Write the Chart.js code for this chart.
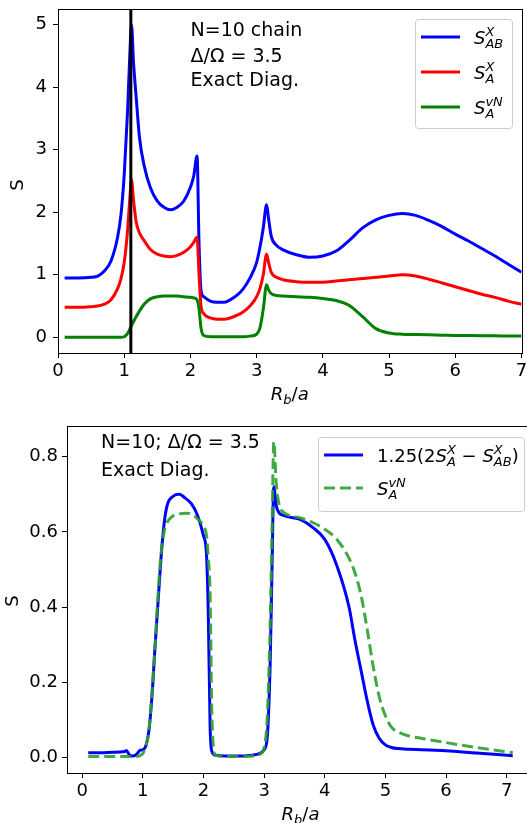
<!DOCTYPE html>
<html>
<head>
<meta charset="utf-8">
<script src="https://cdn.jsdelivr.net/npm/chart.js@4.4.1/dist/chart.umd.min.js"></script>
<style>
  html, body { margin: 0; padding: 0; background: #fff; overflow: hidden; width: 527px; height: 823px; }
  #top { position: absolute; left: 0; top: 0; width: 527px; height: 410px; }
  #bot { position: absolute; left: 0; top: 400px; width: 541px; height: 423px; }
</style>
</head>
<body>
<div id="top"><canvas id="chartTop"></canvas></div>
<div id="bot"><canvas id="chartBot"></canvas></div>
<script>
// top panel: entropies vs R_b/a
var topR = [0.1, 0.3, 0.5, 0.6, 0.7, 0.8, 0.9, 0.95, 1.0, 1.05,
  1.08, 1.11, 1.14, 1.18, 1.23, 1.3, 1.4, 1.5, 1.6, 1.7,
  1.8, 1.9, 2.0, 2.05, 2.1, 2.13, 2.16, 2.2, 2.3, 2.4,
  2.5, 2.6, 2.7, 2.8, 2.9, 3.0, 3.05, 3.1, 3.15, 3.18,
  3.22, 3.3, 3.4, 3.6, 3.8, 4.0, 4.2, 4.4, 4.6, 4.8,
  5.0, 5.2, 5.4, 5.6, 5.8, 6.0, 6.2, 6.4, 6.6, 6.8, 7.0];
var sAB = [0.95, 0.95, 0.96, 0.98, 1.06, 1.22, 1.6, 1.95, 2.6, 3.6,
  4.4, 5.0, 4.4, 3.85, 3.2, 2.75, 2.38, 2.18, 2.08, 2.04,
  2.08, 2.18, 2.4, 2.58, 2.9, 1.5, 0.75, 0.65, 0.58, 0.56,
  0.56, 0.6, 0.67, 0.78, 0.95, 1.2, 1.44, 1.75, 2.12, 1.9,
  1.62, 1.47, 1.4, 1.32, 1.28, 1.3, 1.38, 1.55, 1.75, 1.88,
  1.95, 1.98, 1.95, 1.87, 1.77, 1.65, 1.54, 1.42, 1.3, 1.17, 1.04];
var sA = [0.48, 0.48, 0.49, 0.5, 0.53, 0.6, 0.78, 0.93, 1.2, 1.7,
  2.15, 2.52, 2.2, 1.85, 1.67, 1.55, 1.4, 1.33, 1.3, 1.29,
  1.31, 1.36, 1.45, 1.52, 1.6, 1.0, 0.5, 0.38, 0.31, 0.29,
  0.29, 0.31, 0.35, 0.41, 0.5, 0.65, 0.78, 1.0, 1.33, 1.2,
  1.04, 0.96, 0.92, 0.89, 0.88, 0.88, 0.9, 0.92, 0.94, 0.96,
  0.98, 1.0, 0.98, 0.93, 0.87, 0.81, 0.75, 0.69, 0.64, 0.58, 0.53];
var sVN = [0, 0, 0, 0, 0, 0, 0, 0, 0.01, 0.06,
  0.12, 0.19, 0.25, 0.33, 0.42, 0.53, 0.62, 0.65, 0.66, 0.66,
  0.66, 0.65, 0.64, 0.63, 0.6, 0.45, 0.15, 0.03, 0.01, 0.01,
  0.01, 0.01, 0.01, 0.01, 0.02, 0.05, 0.15, 0.45, 0.84, 0.76,
  0.7, 0.67, 0.66, 0.65, 0.64, 0.62, 0.59, 0.51, 0.33, 0.14,
  0.07, 0.05, 0.045, 0.04, 0.035, 0.03, 0.028, 0.026, 0.024, 0.022, 0.02];
var markR = 1.1;

// bottom panel: combination vs von Neumann
var botR = [0.1, 0.3, 0.5, 0.7, 0.73, 0.77, 0.82, 0.9, 0.95, 1.0,
  1.05, 1.1, 1.15, 1.2, 1.25, 1.3, 1.35, 1.4, 1.5, 1.6,
  1.7, 1.8, 1.9, 2.0, 2.05, 2.08, 2.11, 2.14, 2.2, 2.4,
  2.6, 2.8, 2.95, 3.0, 3.05, 3.1, 3.13, 3.16, 3.2, 3.25,
  3.3, 3.4, 3.6, 3.8, 4.0, 4.2, 4.4, 4.5, 4.6, 4.7,
  4.8, 4.9, 5.0, 5.1, 5.2, 5.4, 5.6, 6.0, 6.5, 7.1];
var combo = [0.012, 0.012, 0.013, 0.015, 0.018, 0.008, 0.003, 0.008, 0.018, 0.02,
  0.03, 0.07, 0.16, 0.29, 0.41, 0.53, 0.62, 0.67, 0.695, 0.70,
  0.69, 0.675, 0.645, 0.59, 0.54, 0.38, 0.08, 0.015, 0.005, 0.003,
  0.003, 0.005, 0.012, 0.02, 0.05, 0.25, 0.5, 0.72, 0.67, 0.65,
  0.645, 0.64, 0.633, 0.612, 0.58, 0.51, 0.4, 0.31, 0.23, 0.15,
  0.085, 0.05, 0.033, 0.026, 0.023, 0.021, 0.02, 0.017, 0.011, 0.004];
var vN = [0.002, 0.002, 0.002, 0.002, 0.002, 0.002, 0.002, 0.002, 0.004, 0.01,
  0.03, 0.07, 0.17, 0.29, 0.43, 0.54, 0.6, 0.625, 0.643, 0.648,
  0.65, 0.648, 0.635, 0.615, 0.59, 0.53, 0.43, 0.1, 0.005, 0.002,
  0.002, 0.003, 0.01, 0.025, 0.1, 0.35, 0.6, 0.84, 0.73, 0.67,
  0.655, 0.645, 0.637, 0.625, 0.607, 0.58, 0.53, 0.49, 0.43, 0.34,
  0.24, 0.16, 0.11, 0.08, 0.068, 0.056, 0.05, 0.039, 0.026, 0.012];

var xTicks = [0, 1, 2, 3, 4, 5, 6, 7];
var topYTicks = [0, 1, 2, 3, 4, 5];
var botYTicks = [0, 0.2, 0.4, 0.6, 0.8];

var FONT = 'DejaVu Sans';

function pts(xs, ys) {
  return xs.map(function(x, i) { return { x: x, y: ys[i] }; });
}

// draws mathtext-like pieces: {t, i} or {sup, sub}
function mathText(ctx, parts, x, y, size) {
  var cx = x;
  ctx.textAlign = 'left';
  ctx.textBaseline = 'alphabetic';
  parts.forEach(function(p) {
    if (p.sup !== undefined || p.sub !== undefined) {
      var s = Math.round(size * 0.7), w = 0;
      ctx.font = 'italic ' + s + 'px ' + FONT;
      if (p.sup) { ctx.fillText(p.sup, cx, y - size * 0.45); w = ctx.measureText(p.sup).width; }
      if (p.sub) { ctx.fillText(p.sub, cx, y + size * 0.22); w = Math.max(w, ctx.measureText(p.sub).width); }
      cx += w;
    } else {
      ctx.font = (p.i ? 'italic ' : '') + size + 'px ' + FONT;
      ctx.fillText(p.t, cx, y);
      cx += ctx.measureText(p.t).width;
    }
  });
  return cx - x;
}

function roundBox(ctx, x, y, w, h, r) {
  ctx.beginPath();
  ctx.moveTo(x + r, y);
  ctx.arcTo(x + w, y, x + w, y + h, r);
  ctx.arcTo(x + w, y + h, x, y + h, r);
  ctx.arcTo(x, y + h, x, y, r);
  ctx.arcTo(x, y, x + w, y, r);
  ctx.closePath();
  ctx.fillStyle = 'rgba(255,255,255,0.8)';
  ctx.fill();
  ctx.strokeStyle = '#cccccc';
  ctx.lineWidth = 1;
  ctx.stroke();
}

function drawLegend(ctx, x, y, w, h, entries, gap) {
  roundBox(ctx, x + 0.5, y + 0.5, w, h, 3);
  entries.forEach(function(e, i) {
    var ly = y + 18 + i * gap;
    ctx.strokeStyle = e.color;
    ctx.lineWidth = 3;
    ctx.setLineDash(e.dash || []);
    ctx.beginPath();
    ctx.moveTo(x + 6, ly);
    ctx.lineTo(x + 45, ly);
    ctx.stroke();
    ctx.setLineDash([]);
    ctx.fillStyle = '#000';
    mathText(ctx, e.label, x + 59, ly + 7, 18);
  });
}

function drawFrame(chart) {
  var a = chart.chartArea, ctx = chart.ctx;
  ctx.strokeStyle = '#000';
  ctx.lineWidth = 1;
  ctx.strokeRect(Math.round(a.left) + 0.5, Math.round(a.top) + 0.5,
    Math.round(a.right - a.left), Math.round(a.bottom - a.top));
}

function drawYLabel(ctx, x, y) {
  ctx.save();
  ctx.translate(x, y);
  ctx.rotate(-Math.PI / 2);
  ctx.fillStyle = '#000';
  ctx.font = '18px ' + FONT;
  ctx.textAlign = 'center';
  ctx.textBaseline = 'middle';
  ctx.fillText('S', 0, 0);
  ctx.restore();
}

var xLabelParts = [{ t: 'R', i: true }, { sub: 'b' }, { t: '/' }, { t: 'a', i: true }];

function drawXLabel(ctx, cx, base) {
  ctx.font = '18px ' + FONT;
  ctx.fillStyle = '#000';
  var w = mathText(ctx, xLabelParts, -1000, -1000, 18);
  mathText(ctx, xLabelParts, cx - w / 2, base, 18);
}

var topDeco = {
  id: 'topDeco',
  afterDatasetsDraw: function(chart) {
    var ctx = chart.ctx, a = chart.chartArea;
    var px = chart.scales.x.getPixelForValue(markR);
    ctx.save();
    ctx.strokeStyle = '#000';
    ctx.lineWidth = 3;
    ctx.beginPath();
    ctx.moveTo(px, a.top);
    ctx.lineTo(px, a.bottom);
    ctx.stroke();
    drawFrame(chart);
    ctx.fillStyle = '#000';
    mathText(ctx, [{ t: 'N=10 chain' }], 190.5, 36, 19);
    mathText(ctx, [{ t: '\u0394/\u03A9 = 3.5' }], 190.5, 61.5, 19);
    mathText(ctx, [{ t: 'Exact Diag.' }], 190.5, 86, 19);
    drawLegend(ctx, a.right - 106.5, a.top + 10, 97, 109, [
      { color: '#0000ff', label: [{ t: 'S', i: true }, { sup: 'X', sub: 'AB' }] },
      { color: '#ff0000', label: [{ t: 'S', i: true }, { sup: 'X', sub: 'A' }] },
      { color: '#008000', label: [{ t: 'S', i: true }, { sup: 'vN', sub: 'A' }] }
    ], 35);
    drawYLabel(ctx, 18, 185);
    drawXLabel(ctx, (a.left + a.right) / 2, 400);
    ctx.restore();
  }
};

var botDeco = {
  id: 'botDeco',
  afterDatasetsDraw: function(chart) {
    var ctx = chart.ctx, a = chart.chartArea;
    ctx.save();
    drawFrame(chart);
    ctx.fillStyle = '#000';
    mathText(ctx, [{ t: 'N=10; \u0394/\u03A9 = 3.5' }], 101, 48, 19);
    mathText(ctx, [{ t: 'Exact Diag.' }], 101, 76, 19);
    drawLegend(ctx, a.right - 216, a.top + 11, 206, 74, [
      { color: '#0000ff', label: [{ t: '1.25(2' }, { t: 'S', i: true }, { sup: 'X', sub: 'A' },
        { t: ' \u2212 ' }, { t: 'S', i: true }, { sup: 'X', sub: 'AB' }, { t: ')' }] },
      { color: 'rgba(44,160,44,0.9)', dash: [11, 5], label: [{ t: 'S', i: true }, { sup: 'vN', sub: 'A' }] }
    ], 33);
    drawYLabel(ctx, 13, 201);
    drawXLabel(ctx, (a.left + a.right) / 2, 420);
    ctx.restore();
  }
};

function line(data, color, order, dash) {
  return {
    data: data,
    borderColor: color,
    borderWidth: 3,
    borderDash: dash || [],
    pointRadius: 0,
    fill: false,
    cubicInterpolationMode: 'monotone',
    order: order
  };
}

function tickSetter(values) {
  return function(scale) {
    scale.ticks = values.map(function(v) { return { value: v }; });
  };
}

function scaleX(min, max, pad, height) {
  return {
    type: 'linear', min: min, max: max,
    afterBuildTicks: tickSetter(xTicks),
    afterFit: function(s) { s.height = height; s.paddingLeft = 0; s.paddingRight = 0; },
    grid: { drawOnChartArea: false, drawTicks: true, tickLength: 5, color: '#000' },
    border: { display: false },
    ticks: { color: '#000', font: { family: FONT, size: 18 }, padding: pad, maxRotation: 0 }
  };
}

function scaleY(min, max, values, width, pad, fmt) {
  return {
    type: 'linear', min: min, max: max,
    afterBuildTicks: tickSetter(values),
    afterFit: function(s) { s.width = width; s.paddingTop = 0; s.paddingBottom = 0; },
    grid: { drawOnChartArea: false, drawTicks: true, tickLength: 5, color: '#000' },
    border: { display: false },
    ticks: { color: '#000', font: { family: FONT, size: 18 }, padding: pad, callback: fmt }
  };
}

var common = {
  responsive: true,
  maintainAspectRatio: false,
  animation: false,
  devicePixelRatio: 1,
  plugins: { legend: { display: false }, tooltip: { enabled: false } }
};

new Chart(document.getElementById('chartTop'), {
  type: 'line',
  data: {
    datasets: [
      line(pts(topR, sAB), '#0000ff', 3),
      line(pts(topR, sA), '#ff0000', 2),
      line(pts(topR, sVN), '#008000', 1)
    ]
  },
  options: Object.assign({}, common, {
    layout: { padding: { left: 0, right: 5.5, top: 9, bottom: 0 } },
    scales: {
      x: scaleX(0, 7, 3, 57),
      y: scaleY(-0.25, 5.25, topYTicks, 58, 6, function(v) { return String(v); })
    }
  }),
  plugins: [topDeco]
});

new Chart(document.getElementById('chartBot'), {
  type: 'line',
  data: {
    datasets: [
      line(pts(botR, combo), '#0000ff', 2),
      line(pts(botR, vN), 'rgba(44,160,44,0.9)', 1, [11, 5])
    ]
  },
  options: Object.assign({}, common, {
    layout: { padding: { left: 0, right: 7, top: 26, bottom: 0 } },
    scales: {
      x: scaleX(-0.25, 7.45, 3, 50),
      y: scaleY(-0.042, 0.882, botYTicks, 67, 4, function(v) { return v.toFixed(1); })
    }
  }),
  plugins: [botDeco]
});
</script>
</body>
</html>
